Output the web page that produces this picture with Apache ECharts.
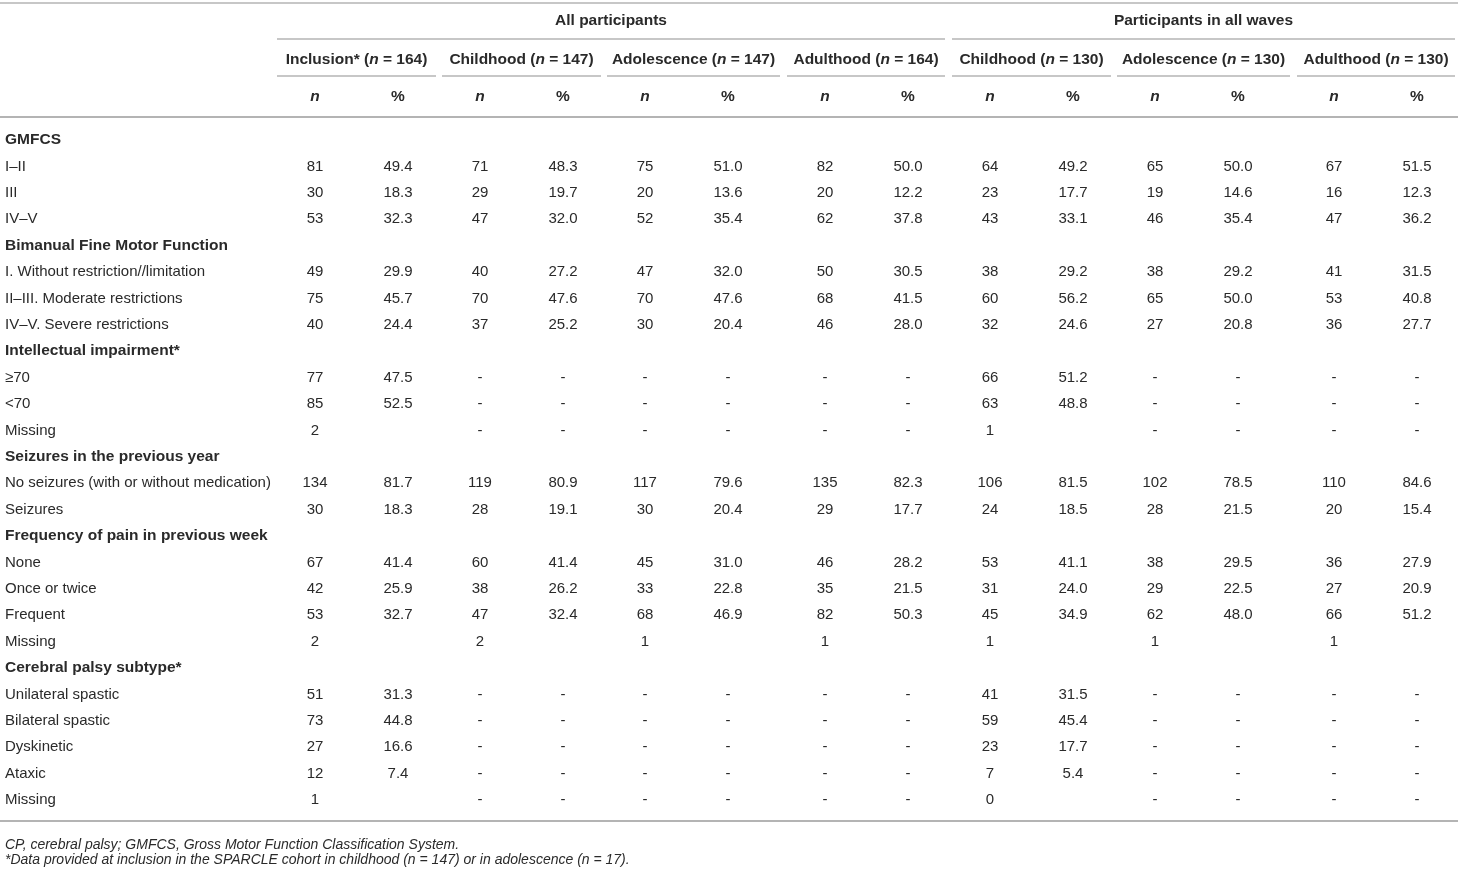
<!DOCTYPE html>
<html>
<head>
<meta charset="utf-8">
<script src="https://cdn.jsdelivr.net/npm/echarts@6/dist/echarts.min.js"></script>
<style>
html,body{margin:0;padding:0;background:#fff;}
#chart{width:1458px;height:869px;}
</style>
</head>
<body>
<div id="chart"></div>
<script>
// ---------- DATA ----------
const groupHeaders = ["All participants", "Participants in all waves"];
const waveHeaders = [
  ["Inclusion*", "164"], ["Childhood", "147"], ["Adolescence", "147"], ["Adulthood", "164"],
  ["Childhood", "130"], ["Adolescence", "130"], ["Adulthood", "130"]
];
const rowLabels = [
  "GMFCS", "I–II", "III", "IV–V",
  "Bimanual Fine Motor Function", "I. Without restriction//limitation", "II–III. Moderate restrictions", "IV–V. Severe restrictions",
  "Intellectual impairment*", "≥70", "<70", "Missing",
  "Seizures in the previous year", "No seizures (with or without medication)", "Seizures",
  "Frequency of pain in previous week", "None", "Once or twice", "Frequent", "Missing",
  "Cerebral palsy subtype*", "Unilateral spastic", "Bilateral spastic", "Dyskinetic", "Ataxic", "Missing"
];
const sectionRows = [0, 4, 8, 12, 15, 20];
const cellValues = [
  null,
  ["81","49.4","71","48.3","75","51.0","82","50.0","64","49.2","65","50.0","67","51.5"],
  ["30","18.3","29","19.7","20","13.6","20","12.2","23","17.7","19","14.6","16","12.3"],
  ["53","32.3","47","32.0","52","35.4","62","37.8","43","33.1","46","35.4","47","36.2"],
  null,
  ["49","29.9","40","27.2","47","32.0","50","30.5","38","29.2","38","29.2","41","31.5"],
  ["75","45.7","70","47.6","70","47.6","68","41.5","60","56.2","65","50.0","53","40.8"],
  ["40","24.4","37","25.2","30","20.4","46","28.0","32","24.6","27","20.8","36","27.7"],
  null,
  ["77","47.5","-","-","-","-","-","-","66","51.2","-","-","-","-"],
  ["85","52.5","-","-","-","-","-","-","63","48.8","-","-","-","-"],
  ["2","","-","-","-","-","-","-","1","","-","-","-","-"],
  null,
  ["134","81.7","119","80.9","117","79.6","135","82.3","106","81.5","102","78.5","110","84.6"],
  ["30","18.3","28","19.1","30","20.4","29","17.7","24","18.5","28","21.5","20","15.4"],
  null,
  ["67","41.4","60","41.4","45","31.0","46","28.2","53","41.1","38","29.5","36","27.9"],
  ["42","25.9","38","26.2","33","22.8","35","21.5","31","24.0","29","22.5","27","20.9"],
  ["53","32.7","47","32.4","68","46.9","82","50.3","45","34.9","62","48.0","66","51.2"],
  ["2","","2","","1","","1","","1","","1","","1",""],
  null,
  ["51","31.3","-","-","-","-","-","-","41","31.5","-","-","-","-"],
  ["73","44.8","-","-","-","-","-","-","59","45.4","-","-","-","-"],
  ["27","16.6","-","-","-","-","-","-","23","17.7","-","-","-","-"],
  ["12","7.4","-","-","-","-","-","-","7","5.4","-","-","-","-"],
  ["1","","-","-","-","-","-","-","0","","-","-","-","-"]
];
const footnotes = [
  "CP, cerebral palsy; GMFCS, Gross Motor Function Classification System.",
  "*Data provided at inclusion in the SPARCLE cohort in childhood (n = 147) or in adolescence (n = 17)."
];

// ---------- LAYOUT ----------
const W = 1458, H = 869;
const labelX = 5;
const colX = [315, 398, 480, 563, 645, 728, 825, 908, 990, 1073, 1155, 1238, 1334, 1417];
const waveSpan = [[277,436],[442,601],[607,780],[787,945],[952,1111],[1117,1290],[1297,1455]];
const groupSpan = [[277,945],[952,1455]];
const rowH = 26.4, firstRowY = 140;
const FONT = '"Liberation Sans", Arial, sans-serif';
const TXT = '#2a2a2a';
const RULE = '#b4b4b4';
const BODY = '15px ';
const HEAD = '15.5px ';

// Build cell data [xPos, rowIndex, text, kind]
const cellData = [];
rowLabels.forEach((lab, r) => {
  cellData.push([labelX, r, lab, sectionRows.includes(r) ? 'sec' : 'lab']);
  const vals = cellValues[r];
  if (vals) vals.forEach((v, c) => { if (v !== '') cellData.push([colX[c], r, v, 'val']); });
});

const gridTop = firstRowY - rowH / 2;
const gridBottom = H - (gridTop + rowH * rowLabels.length);

// Header graphics
const graphics = [];
function rule(x1, x2, y, w) {
  graphics.push({ type: 'line', shape: { x1, y1: y, x2, y2: y }, style: { stroke: RULE, lineWidth: w } });
}
rule(0, W, 3, 1.5);
groupHeaders.forEach((g, i) => {
  const [a, b] = groupSpan[i];
  graphics.push({ type: 'text', x: (a + b) / 2, y: 21, style: { text: g, font: 'bold ' + HEAD + FONT, fill: TXT, align: 'center', verticalAlign: 'middle' } });
  rule(a, b, 39, 1.5);
});
waveHeaders.forEach((wh, i) => {
  const [a, b] = waveSpan[i];
  graphics.push({
    type: 'text', x: (a + b) / 2, y: 60,
    style: {
      text: '{b|' + wh[0] + ' (}{i|n}{b| = ' + wh[1] + ')}',
      align: 'center', verticalAlign: 'middle',
      rich: {
        b: { font: 'bold ' + HEAD + FONT, fill: TXT },
        i: { font: 'italic bold ' + HEAD + FONT, fill: TXT }
      }
    }
  });
  rule(a, b, 76, 1.5);
  graphics.push({ type: 'text', x: colX[2 * i], y: 97, style: { text: 'n', font: 'italic bold ' + HEAD + FONT, fill: TXT, align: 'center', verticalAlign: 'middle' } });
  graphics.push({ type: 'text', x: colX[2 * i + 1], y: 97, style: { text: '%', font: 'bold ' + HEAD + FONT, fill: TXT, align: 'center', verticalAlign: 'middle' } });
});
rule(0, W, 117, 2);
rule(0, W, 821, 2);
footnotes.forEach((f, i) => {
  graphics.push({ type: 'text', x: 5, y: 845 + i * 15, style: { text: f, font: 'italic 14px ' + FONT, fill: TXT, align: 'left', verticalAlign: 'middle' } });
});

const chart = echarts.init(document.getElementById('chart'), null, { renderer: 'canvas' });
chart.setOption({
  animation: false,
  backgroundColor: '#fff',
  grid: { left: 0, right: 0, top: gridTop, bottom: gridBottom },
  xAxis: { type: 'value', min: 0, max: W, show: false },
  yAxis: { type: 'category', data: rowLabels, inverse: true, show: false, boundaryGap: true },
  graphic: graphics,
  series: [{
    type: 'custom',
    data: cellData,
    renderItem: function (params, api) {
      const kind = cellData[params.dataIndex][3];
      const text = cellData[params.dataIndex][2];
      const p = api.coord([api.value(0), api.value(1)]);
      return {
        type: 'text',
        x: p[0], y: p[1],
        style: {
          text: text,
          font: (kind === 'sec' ? 'bold ' + HEAD : BODY) + FONT,
          fill: TXT,
          align: kind === 'val' ? 'center' : 'left',
          verticalAlign: 'middle'
        }
      };
    }
  }]
});
</script>
</body>
</html>
